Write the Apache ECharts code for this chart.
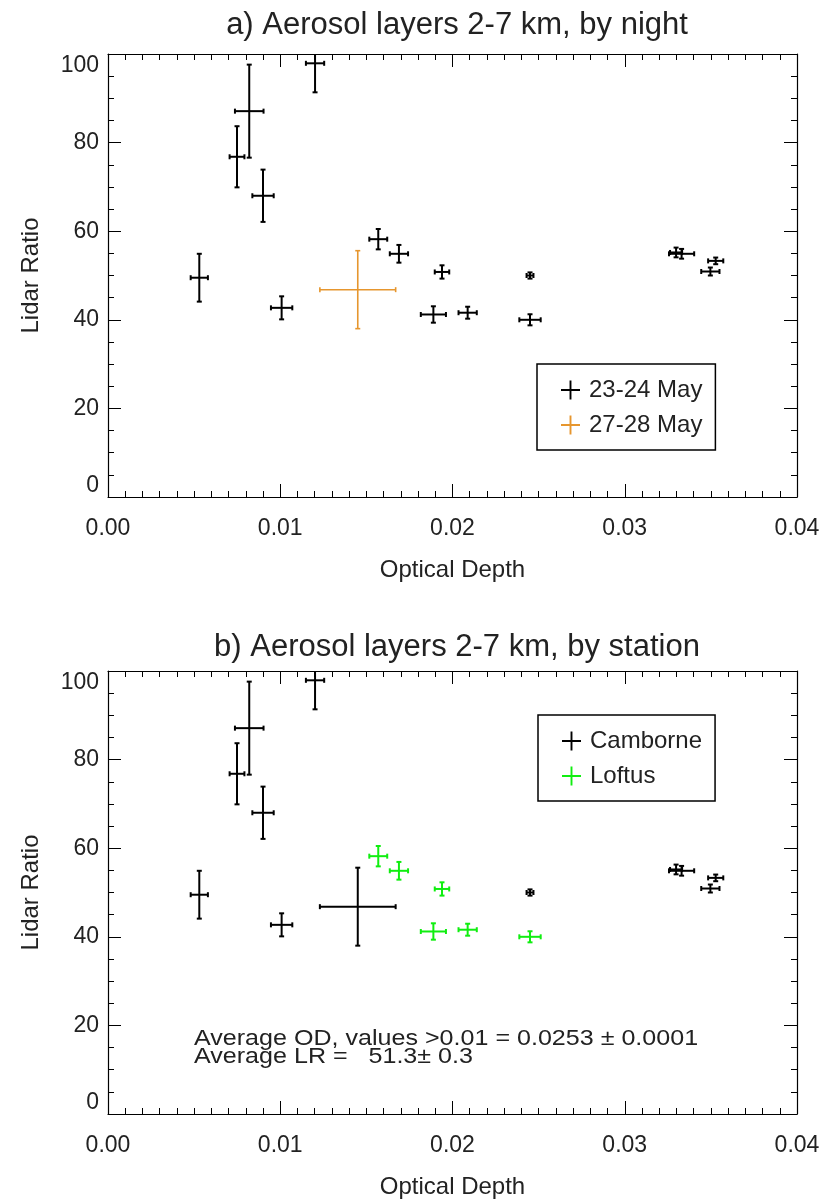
<!DOCTYPE html>
<html>
<head>
<meta charset="utf-8">
<script src="https://cdn.jsdelivr.net/npm/echarts@6/dist/echarts.min.js"></script>
<style>
html,body{margin:0;padding:0;background:#fff;}
#chart{width:823px;height:1201px;}
</style>
</head>
<body>
<div id="chart"></div>
<script>
// ---- data ----
const opticalDepth = [0.0053, 0.00749, 0.0082, 0.0090, 0.01202, 0.01008, 0.0145, 0.01569, 0.01689, 0.01939, 0.01889, 0.02088, 0.0245, 0.0245, 0.03298, 0.0333, 0.03528, 0.03497];
const opticalDepthErr = [0.0005, 0.00043, 0.00083, 0.00062, 0.00053, 0.00062, 0.0022, 0.00052, 0.00053, 0.00042, 0.00073, 0.00053, 0.0002, 0.00062, 0.00035, 0.00073, 0.00044, 0.00053];
const lidarRatio = [49.5, 76.8, 87.1, 68.0, 97.9, 42.7, 46.8, 58.2, 54.9, 50.8, 41.2, 41.6, 50.0, 40.0, 55.2, 54.9, 53.3, 50.9];
const lidarRatioErr = [5.4, 6.9, 10.5, 5.9, 6.55, 2.6, 8.8, 2.3, 2.0, 1.5, 1.85, 1.35, 0.7, 1.25, 1.1, 1.1, 0.75, 0.9];
const nightGroup = ['23-24 May','23-24 May','23-24 May','23-24 May','23-24 May','23-24 May','27-28 May','23-24 May','23-24 May','23-24 May','23-24 May','23-24 May','23-24 May','23-24 May','23-24 May','23-24 May','23-24 May','23-24 May'];
const stationGroup = ['Camborne','Camborne','Camborne','Camborne','Camborne','Camborne','Camborne','Loftus','Loftus','Loftus','Loftus','Loftus','Camborne','Loftus','Camborne','Camborne','Camborne','Camborne'];
const nights = ['23-24 May', '27-28 May'];
const stations = ['Camborne', 'Loftus'];
const xTicks = [0.00, 0.01, 0.02, 0.03, 0.04];
const yTicks = [0, 20, 40, 60, 80, 100];
const titles = ['a) Aerosol layers 2-7 km, by night', 'b) Aerosol layers 2-7 km, by station'];
const noteLines = ['Average OD, values >0.01 = 0.0253 \u00b1 0.0001', 'Average LR =   51.3\u00b1 0.3'];

// ---- styling ----
const FONT = '"Liberation Sans", Arial, Helvetica, sans-serif';
const colorMap = {'23-24 May':'#000000','27-28 May':'#E6962E','Camborne':'#000000','Loftus':'#10EE10'};
const widthMap = {'23-24 May':2,'27-28 May':1.6,'Camborne':2,'Loftus':2};
const grids = [
  {left:108, top:54, width:689, height:443},
  {left:108, top:671, width:689, height:443}
];

function pointsFor(groupArr, name){
  const out = [];
  for (let i=0;i<opticalDepth.length;i++){
    if (groupArr[i]===name) out.push([opticalDepth[i], lidarRatio[i], opticalDepthErr[i], lidarRatioErr[i]]);
  }
  return out;
}

function makeRender(lw){
  return function(params, api){
    const x = api.value(0), y = api.value(1), dx = api.value(2), dy = api.value(3);
    const c = api.coord([x,y]);
    const l = api.coord([x-dx,y]), r = api.coord([x+dx,y]);
    const t = api.coord([x,y+dy]), b = api.coord([x,y-dy]);
    const cap = 2.5;
    const st = {stroke: api.visual('color'), lineWidth: lw, lineCap:'butt'};
    const ln = (x1,y1,x2,y2)=>({type:'line', shape:{x1,y1,x2,y2}, style:st});
    return {type:'group', children:[
      ln(l[0],c[1],r[0],c[1]),
      ln(c[0],t[1],c[0],b[1]),
      ln(l[0],c[1]-cap,l[0],c[1]+cap),
      ln(r[0],c[1]-cap,r[0],c[1]+cap),
      ln(c[0]-cap,t[1],c[0]+cap,t[1]),
      ln(c[0]-cap,b[1],c[0]+cap,b[1])
    ]};
  };
}

const axisLineStyle = {show:true, onZero:false, lineStyle:{color:'#000', width:1.2}};
const xAxes = [], yAxes = [];
grids.forEach((g,gi)=>{
  const common = {
    type:'value', gridIndex:gi, min:xTicks[0], max:xTicks[xTicks.length-1], interval:0.01,
    axisLine:axisLineStyle, splitLine:{show:false},
    axisTick:{show:true, inside:true, length:13, lineStyle:{color:'#000', width:1}},
    minorTick:{show:true, splitNumber:10, length:6, lineStyle:{color:'#000', width:1}},
    minorSplitLine:{show:false}
  };
  xAxes.push(Object.assign({}, common, {
    position:'bottom',
    name:'Optical Depth', nameLocation:'middle', nameGap:61,
    nameTextStyle:{fontFamily:FONT, fontSize:24, color:'#222'},
    axisLabel:{show:true, margin:20, fontFamily:FONT, fontSize:23, color:'#222', formatter:v=>v.toFixed(2)}
  }));
  xAxes.push(Object.assign({}, common, {position:'top', axisLabel:{show:false}}));
  const ycommon = {
    type:'value', gridIndex:gi, min:yTicks[0], max:yTicks[yTicks.length-1], interval:20,
    axisLine:axisLineStyle, splitLine:{show:false},
    axisTick:{show:true, inside:true, length:13, lineStyle:{color:'#000', width:1}},
    minorTick:{show:true, splitNumber:4, length:6, lineStyle:{color:'#000', width:1}},
    minorSplitLine:{show:false}
  };
  yAxes.push(Object.assign({}, ycommon, {
    position:'left',
    name:'Lidar Ratio', nameLocation:'middle', nameGap:65,
    nameTextStyle:{fontFamily:FONT, fontSize:24, color:'#222'},
    axisLabel:{show:true, margin:9, fontFamily:FONT, fontSize:23, color:'#222',
      verticalAlignMinLabel:'bottom', verticalAlignMaxLabel:'top'}
  }));
  yAxes.push(Object.assign({}, ycommon, {position:'right', axisLabel:{show:false}}));
});

const series = [];
nights.forEach(n=>{
  series.push({type:'custom', name:n, xAxisIndex:0, yAxisIndex:0, clip:true,
    itemStyle:{color:colorMap[n]}, renderItem:makeRender(widthMap[n]),
    encode:{x:0,y:1}, data:pointsFor(nightGroup,n)});
});
stations.forEach(s=>{
  series.push({type:'custom', name:s, xAxisIndex:2, yAxisIndex:2, clip:true,
    itemStyle:{color:colorMap[s]}, renderItem:makeRender(widthMap[s]),
    encode:{x:0,y:1}, data:pointsFor(stationGroup,s)});
});

const plusIcon = 'path://M9,0h2v9h9v2h-9v9h-2v-9h-9v-2h9z';
const legendCommon = {
  orient:'vertical', icon:plusIcon, itemWidth:19, itemHeight:19, itemGap:11,
  borderColor:'#000', borderWidth:1.5, borderRadius:0, padding:[14,13,13,24],
  selectedMode:false,
  textStyle:{fontFamily:FONT, fontSize:24, color:'#222', padding:[0,0,0,4]}
};

const option = {
  backgroundColor:'#fff',
  animation:false,
  title: titles.map((t,i)=>({
    text:t, left:452, top: i===0 ? 5 : 627, textAlign:'center',
    textStyle:{fontFamily:FONT, fontSize:31, fontWeight:'normal', color:'#222'}
  })),
  grid: grids,
  xAxis: xAxes,
  yAxis: yAxes,
  legend:[
    Object.assign({}, legendCommon, {data:nights, left:537, top:364}),
    Object.assign({}, legendCommon, {data:stations, left:538, top:715})
  ],
  graphic:[{
    type:'text', x:194, y:1030, scaleX:1.14, scaleY:1,
    style:{text:noteLines.join('\n'), font:'22px ' + FONT, fill:'#222', lineHeight:18}
  }],
  series: series
};

const chart = echarts.init(document.getElementById('chart'), null, {renderer:'canvas'});
chart.setOption(option);
</script>
</body>
</html>
